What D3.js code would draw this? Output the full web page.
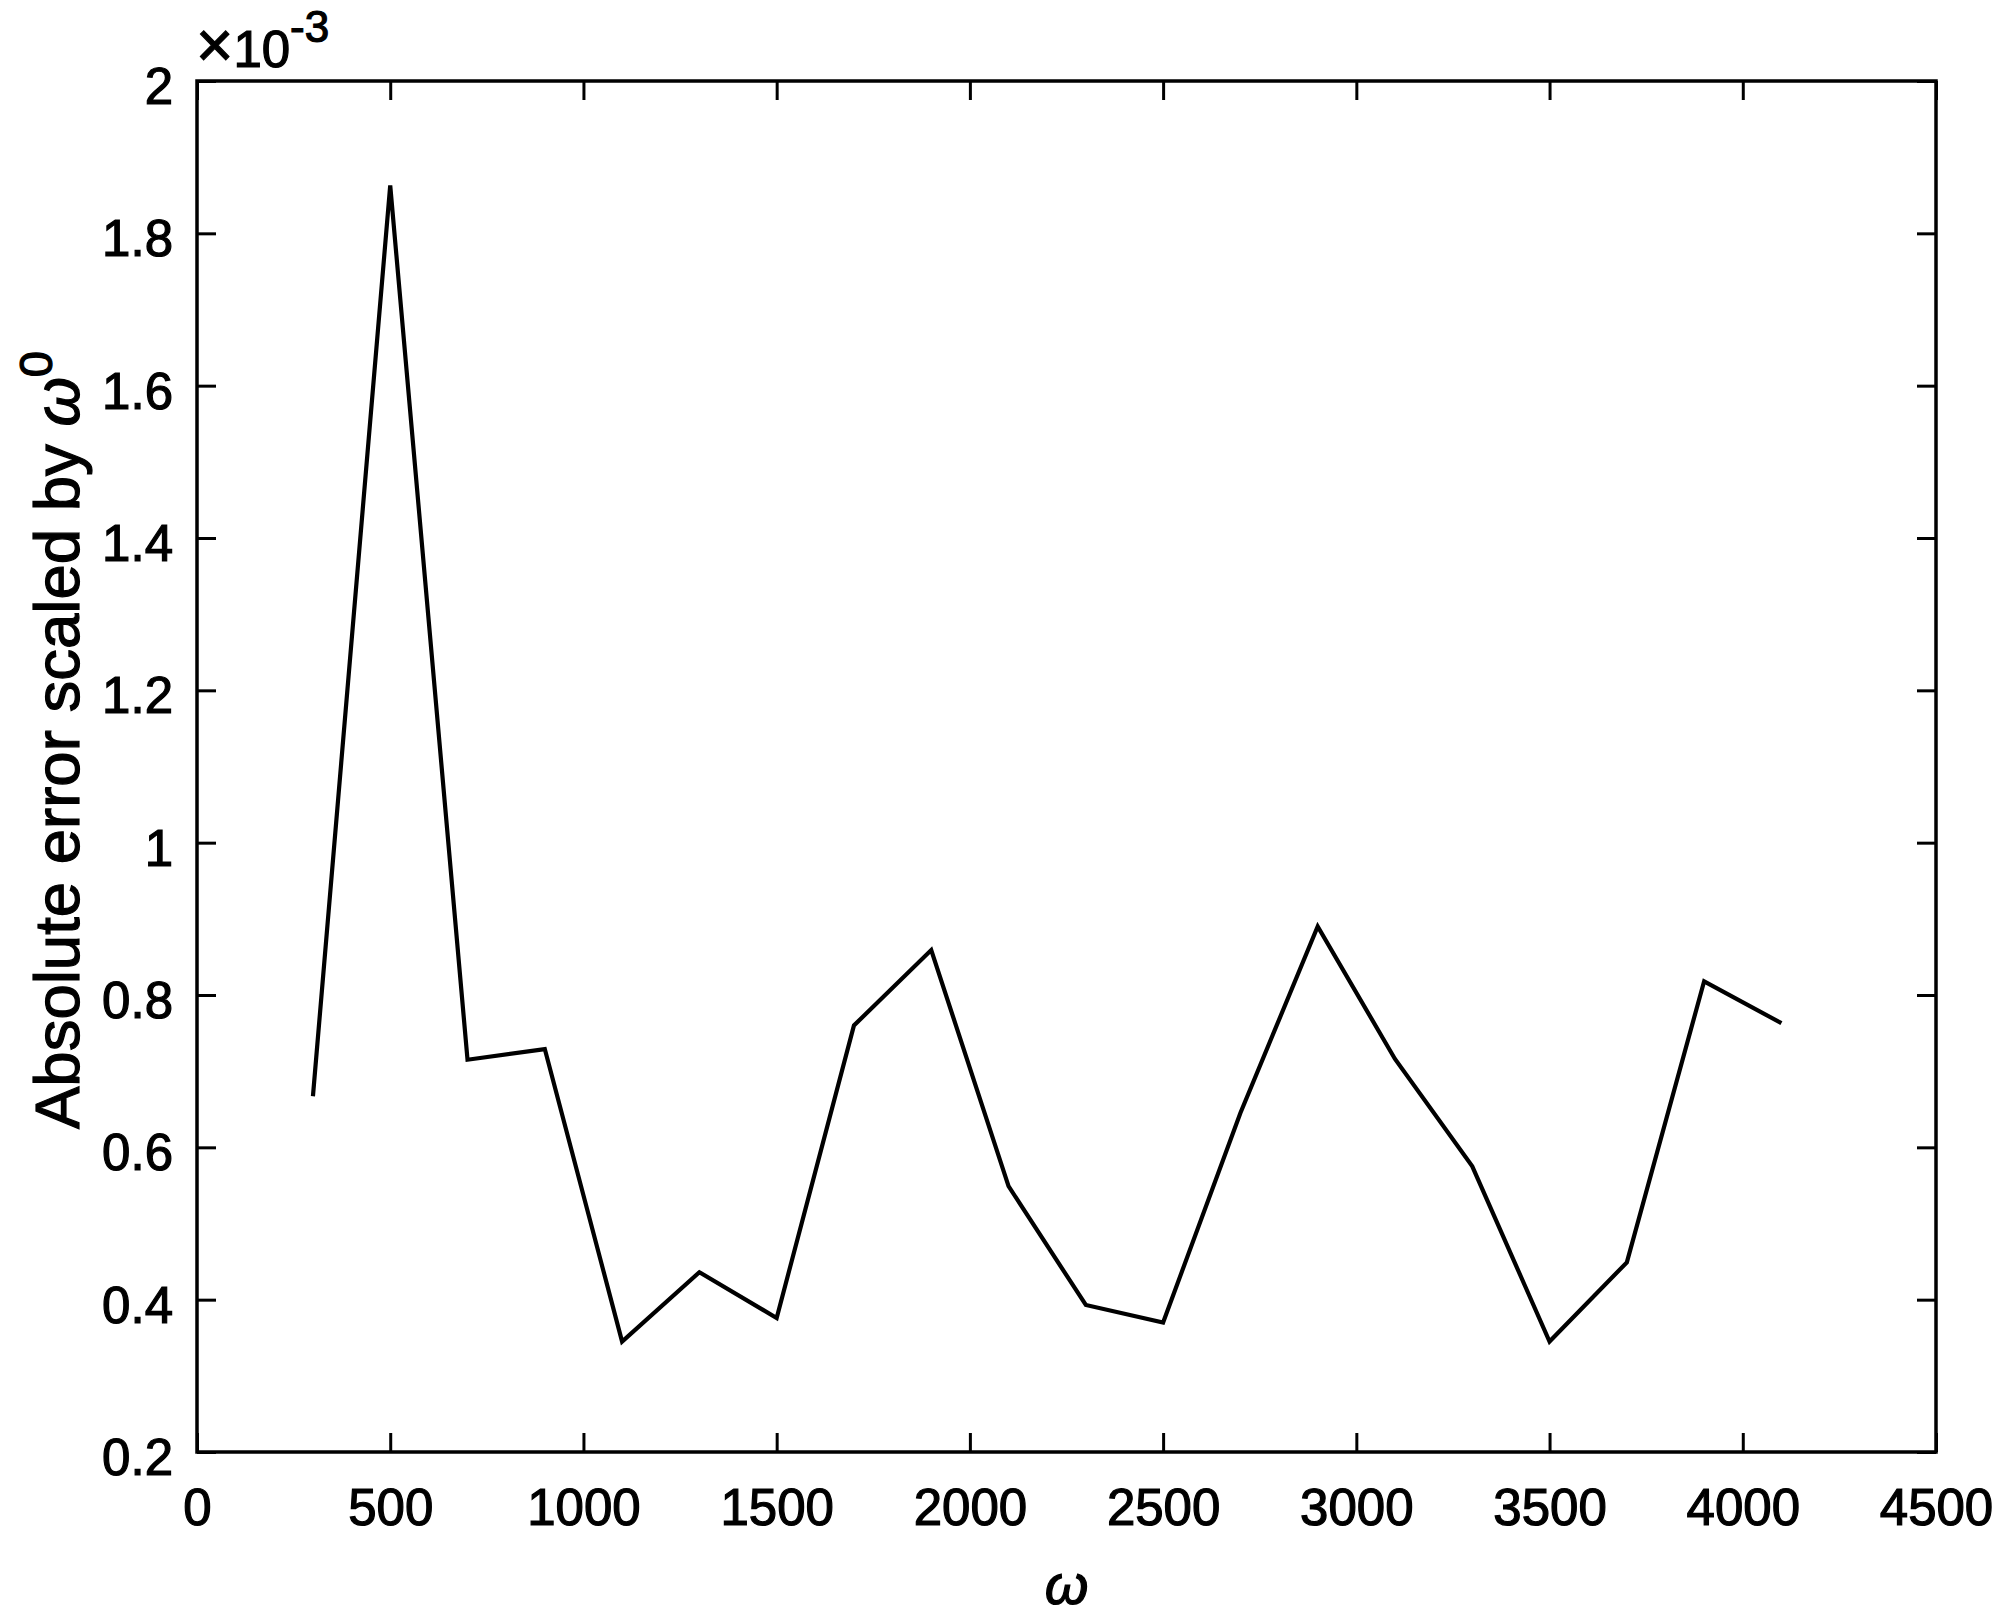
<!DOCTYPE html>
<html>
<head>
<meta charset="utf-8">
<script src="https://cdn.jsdelivr.net/npm/d3@7"></script>
<style>
  html, body { margin: 0; padding: 0; background: #fff; }
  svg { display: block; }
  text { font-family: "Liberation Sans", Arial, sans-serif; fill: #000; stroke: #000; stroke-width: 1.2px; }
</style>
</head>
<body>
<svg id="chart" width="2000" height="1621"></svg>
<script>
// ---- data ----
const omega = [300, 500, 700, 900, 1100, 1300, 1500, 1700, 1900, 2100, 2300, 2500, 2700, 2900, 3100, 3300, 3500, 3700, 3900, 4100];
const absError = [0.667, 1.863, 0.715, 0.729, 0.345, 0.436, 0.376, 0.760, 0.859, 0.549, 0.393, 0.370, 0.645, 0.890, 0.716, 0.575, 0.345, 0.449, 0.818, 0.763];
const xTicks = [0, 500, 1000, 1500, 2000, 2500, 3000, 3500, 4000, 4500];
const yTicks = [0.2, 0.4, 0.6, 0.8, 1, 1.2, 1.4, 1.6, 1.8, 2];
const xDomain = [0, 4500];
const yDomain = [0.2, 2];

(function () {
  const mLeft = 197, mRight = 1936, mTop = 81, mBottom = 1452;
  const svg = d3.select("#chart");
  svg.append("rect").attr("width", 2000).attr("height", 1621).attr("fill", "#fff");

  const x = d3.scaleLinear().domain(xDomain).range([mLeft, mRight]);
  const y = d3.scaleLinear().domain(yDomain).range([mBottom, mTop]);

  const tickLen = 19;
  const fontSize = 51;

  const gb = svg.append("g").attr("transform", `translate(0,${mBottom})`)
    .call(d3.axisBottom(x).tickValues(xTicks).tickFormat(d3.format("d"))
      .tickSizeInner(-tickLen).tickSizeOuter(0).tickPadding(37));
  const gl = svg.append("g").attr("transform", `translate(${mLeft},0)`)
    .call(d3.axisLeft(y).tickValues(yTicks).tickFormat(d => String(+d.toFixed(1)))
      .tickSizeInner(-tickLen).tickSizeOuter(0).tickPadding(24));
  const gt = svg.append("g").attr("transform", `translate(0,${mTop})`)
    .call(d3.axisTop(x).tickValues(xTicks).tickFormat("")
      .tickSizeInner(-tickLen).tickSizeOuter(0));
  const gr = svg.append("g").attr("transform", `translate(${mRight},0)`)
    .call(d3.axisRight(y).tickValues(yTicks).tickFormat("")
      .tickSizeInner(-tickLen).tickSizeOuter(0));

  [gb, gl, gt, gr].forEach(g => {
    g.select(".domain").remove();
    g.selectAll(".tick line").attr("stroke", "#000").attr("stroke-width", 3);
    g.selectAll(".tick text").attr("font-size", fontSize)
      .attr("font-family", '"Liberation Sans", Arial, sans-serif')
      .attr("fill", "#000").attr("stroke", "#000").attr("stroke-width", 1.2);
  });
  gl.selectAll(".tick text").attr("dy", "0.44em");

  svg.append("rect")
    .attr("x", mLeft).attr("y", mTop)
    .attr("width", mRight - mLeft).attr("height", mBottom - mTop)
    .attr("fill", "none").attr("stroke", "#000").attr("stroke-width", 3.5);

  const line = d3.line().x((d, i) => x(omega[i])).y(d => y(d));
  svg.append("path")
    .datum(absError)
    .attr("d", line)
    .attr("fill", "none")
    .attr("stroke", "#000")
    .attr("stroke-width", 4.2)
    .attr("stroke-linejoin", "miter");

  const mult = svg.append("text").attr("x", 196).attr("y", 67).attr("font-size", fontSize);
  mult.append("tspan").attr("font-size", 64).text("\u00d7");
  mult.append("tspan").text("10");
  mult.append("tspan").attr("font-size", 44).attr("dy", -25).text("-3");

  svg.append("text")
    .attr("x", (mLeft + mRight) / 2).attr("y", 1604)
    .attr("text-anchor", "middle")
    .attr("font-size", 56)
    .attr("font-style", "italic")
    .text("\u03c9");

  const yl = svg.append("text")
    .attr("transform", `translate(79,740) rotate(-90)`)
    .attr("text-anchor", "middle")
    .attr("font-size", 63.5);
  yl.append("tspan").text("Absolute error scaled by ");
  yl.append("tspan").attr("font-style", "italic").text("\u03c9");
  yl.append("tspan").attr("font-size", 47).attr("dy", -27).text("0");
})();
</script>
</body>
</html>
